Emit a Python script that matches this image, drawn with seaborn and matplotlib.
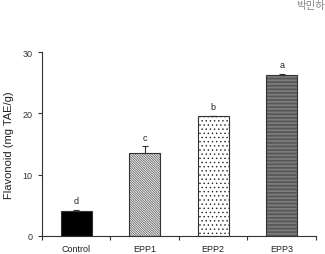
import numpy as np
import pandas as pd
import seaborn as sns
import matplotlib
matplotlib.use('Agg')
import matplotlib.pyplot as plt

# data
groups = ["Control", "EPP1", "EPP2", "EPP3"]
flavonoid = [4.1, 13.5, 19.5, 26.3]
sd = [0.2, 1.1, 0.1, 0.1]
letters = ["d", "c", "b", "a"]

df = pd.DataFrame({"group": groups, "value": flavonoid})

sns.set_style("ticks")
plt.rcParams['font.family'] = ['Liberation Sans', 'DejaVu Sans']
plt.rcParams['hatch.linewidth'] = 0.5

fig = plt.figure(figsize=(3.25, 2.55), dpi=100)
ax = fig.add_axes([0.129, 0.071, 0.843, 0.721])

sns.barplot(data=df, x="group", y="value", ax=ax, width=0.45,
            color="white", edgecolor="#333333", linewidth=0.8, errorbar=None)

# fills and hatches per bar
faces = ["black", "#f0f0f0", "white", "#9a9a9a"]
hatches = [None, "\\" * 14, "....", "-" * 12]
hcolors = ["black", "#555555", "#222222", "#3a3a3a"]
for bar, fc, h, hc in zip(ax.patches, faces, hatches, hcolors):
    bar.set_facecolor(fc)
    if h:
        bar.set_hatch(h)
        bar._hatch_color = matplotlib.colors.to_rgba(hc)

x = np.arange(len(groups))
ax.errorbar(x, flavonoid, yerr=[np.zeros(len(sd)), sd], fmt="none",
            ecolor="#333333", elinewidth=0.8, capsize=2.5, capthick=0.8)

for xi, v, e, t in zip(x, flavonoid, sd, letters):
    ax.text(xi, v + e + 1.5, t, ha="center", va="center", fontsize=6.5,
            color="#222222")

ax.set_xlim(-0.5, 3.5)
ax.set_ylim(0, 30)
ax.set_yticks([0, 10, 20, 30])
ax.tick_params(axis="y", labelsize=6.5, length=3, width=0.8, colors="#333333", pad=4)
ax.tick_params(axis="x", which="major", length=0, labelsize=6.5, pad=6, colors="#222222")
ax.set_xticks(np.arange(-0.5, 4, 1), minor=True)
ax.tick_params(axis="x", which="minor", length=3, width=0.8, color="#333333")
ax.set_xlabel("")
ax.set_ylabel("Flavonoid (mg TAE/g)", fontsize=8, color="#222222", labelpad=6)
sns.despine(ax=ax)
for s in ["left", "bottom"]:
    ax.spines[s].set_linewidth(0.8)
    ax.spines[s].set_color("#333333")

fig.text(0.955, 0.997, "박민하", ha="center", va="top", fontsize=7.5,
         color="#888888", family=["Noto Sans CJK KR", "DejaVu Sans"])

fig.savefig("out.png", dpi=100)
